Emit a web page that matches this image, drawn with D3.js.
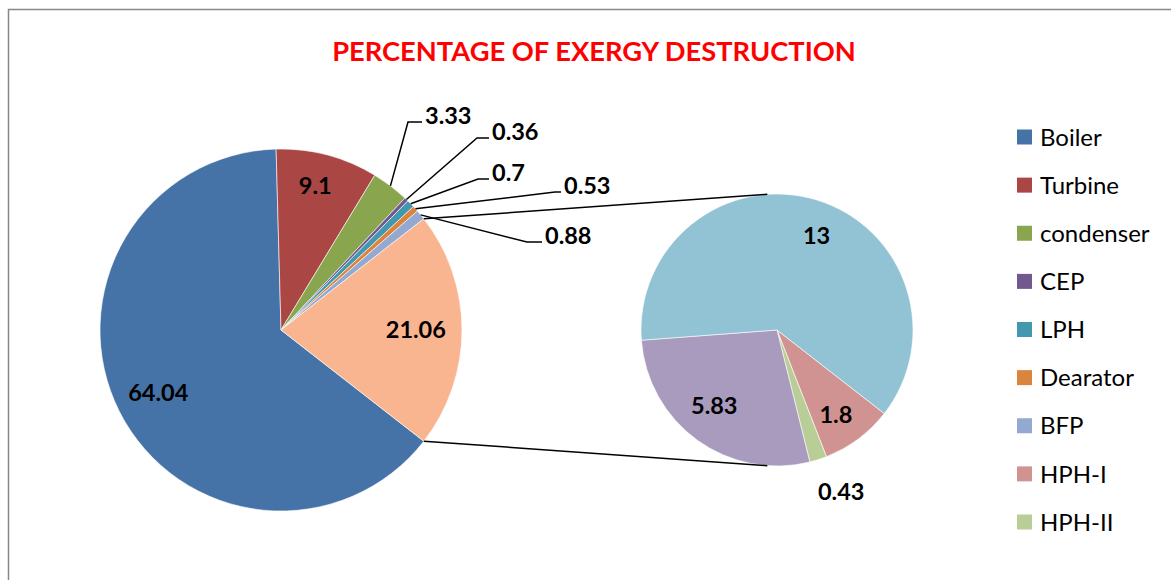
<!DOCTYPE html>
<html>
<head>
<meta charset="utf-8">
<script src="https://cdn.jsdelivr.net/npm/d3@7"></script>
<style>
  html, body { margin: 0; padding: 0; background: #fff; }
  svg { display: block; font-family: Lato, "Open Sans", "Liberation Sans", sans-serif; }
</style>
</head>
<body>
<svg id="chart" width="1171" height="580"></svg>
<script>
// ---- data -------------------------------------------------------------
const chartTitle = "PERCENTAGE OF EXERGY DESTRUCTION";

// components shown in the main pie
const mainNames  = ["Boiler", "Turbine", "condenser", "CEP", "LPH", "Dearator", "BFP"];
const mainValues = [64.04, 9.1, 3.33, 0.36, 0.7, 0.53, 0.88];
const mainColors = ["#4572A7", "#AA4643", "#89A54E", "#71588F", "#4198AF", "#DB843D", "#93A9CF"];

// components split out into the secondary pie
const splitKeys   = ["HPH-I", "HPH-II", "split-3", "split-4"];
const splitValues = [1.8, 0.43, 5.83, 13];
const splitColors = ["#D19392", "#B9CD96", "#A99BBD", "#92C3D4"];

const otherColor = "#F9B590";

// legend entries
const legendNames  = ["Boiler", "Turbine", "condenser", "CEP", "LPH", "Dearator", "BFP", "HPH-I", "HPH-II"];
const legendColors = ["#4572A7", "#AA4643", "#89A54E", "#71588F", "#4198AF", "#DB843D", "#93A9CF", "#D19392", "#B9CD96"];

// ---- layout -----------------------------------------------------------
const W = 1171, H = 580;
const mainC = { x: 281, y: 330, r: 181 };
const splitC = { x: 777, y: 330, r: 136 };

// callouts for the thin main-pie slices: elbow point and end of the shelf
const callouts = {
  condenser: { ex: 408, ey: 122, hx: 422 },
  CEP:       { ex: 477, ey: 138, hx: 489 },
  LPH:       { ex: 478, ey: 179, hx: 489 },
  Dearator:  { ex: 555, ey: 192, hx: 561 },
  BFP:       { ex: 527, ey: 242, hx: 542 }
};
// in-slice label placement: radius fraction and angular nudge (degrees)
const insideMain  = { Boiler: { f: 0.76, da: 0 }, Turbine: { f: 0.82, da: -1.5 }, Other: { f: 0.745, da: 0 } };
const insideSplit = { "HPH-I": { f: 0.76, da: 2 }, "HPH-II": { f: 1.28, da: -4 }, "split-3": { f: 0.72, da: 4 }, "split-4": { f: 0.75, da: 6 } };

const fmt = v => String(+v.toFixed(2));

const svg = d3.select("#chart");

// chart frame
svg.append("rect")
  .attr("x", 8.5).attr("y", 9.5)
  .attr("width", W + 20).attr("height", H + 20)
  .attr("fill", "#fff").attr("stroke", "#878787").attr("stroke-width", 1.5);

// title
svg.append("text")
  .attr("x", 594).attr("y", 61)
  .attr("text-anchor", "middle")
  .attr("fill", "#FF0000")
  .attr("font-weight", 700)
  .attr("font-size", 27.3)
  .text(chartTitle);

// ---- main pie ---------------------------------------------------------
const otherValue = d3.sum(splitValues);
const mainData = mainNames.map((n, i) => ({ name: n, value: mainValues[i], color: mainColors[i] }))
  .concat([{ name: "Other", value: otherValue, color: otherColor }]);
const total = d3.sum(mainData, d => d.value);
const otherFrac = otherValue / total;
// the split-out slice is centred on the 3 o'clock direction
const start = Math.PI / 2 + Math.PI * otherFrac;

const pieMain = d3.pie().sort(null).value(d => d.value)
  .startAngle(start).endAngle(start + 2 * Math.PI);
const arcsMain = pieMain(mainData);
const arcMain = d3.arc().innerRadius(0).outerRadius(mainC.r);

const gMain = svg.append("g").attr("transform", `translate(${mainC.x},${mainC.y})`);
gMain.selectAll("path").data(arcsMain).join("path")
  .attr("d", arcMain)
  .attr("fill", d => d.data.color)
  .attr("stroke", "#fff").attr("stroke-width", 0.6);

const polar = (r, a) => [r * Math.sin(a), -r * Math.cos(a)];

// ---- secondary pie ----------------------------------------------------
const splitData = splitKeys.map((k, i) => ({ name: k, value: splitValues[i], color: splitColors[i] }));
const pieSplit = d3.pie().sort(null).value(d => d.value)
  .startAngle(start).endAngle(start + 2 * Math.PI);
const arcsSplit = pieSplit(splitData);
const arcSplit = d3.arc().innerRadius(0).outerRadius(splitC.r);

const gSplit = svg.append("g").attr("transform", `translate(${splitC.x},${splitC.y})`);
gSplit.selectAll("path").data(arcsSplit).join("path")
  .attr("d", arcSplit)
  .attr("fill", d => d.data.color)
  .attr("stroke", "#fff").attr("stroke-width", 0.6);

// ---- connector lines (tangent to the secondary pie) -------------------
const otherArc = arcsMain[arcsMain.length - 1];
function tangentPoint(px, py, upper) {
  const dx = px - splitC.x, dy = py - splitC.y;
  const d = Math.hypot(dx, dy);
  const th = Math.atan2(dy, dx);
  const al = Math.acos(splitC.r / d);
  const t = upper ? th + al : th - al;
  return [splitC.x + splitC.r * Math.cos(t), splitC.y + splitC.r * Math.sin(t)];
}
[[otherArc.startAngle, true], [otherArc.endAngle, false]].forEach(([a, up]) => {
  const p = polar(mainC.r, a);
  const px = mainC.x + p[0], py = mainC.y + p[1];
  const t = tangentPoint(px, py, up);
  svg.append("line")
    .attr("x1", px).attr("y1", py).attr("x2", t[0]).attr("y2", t[1])
    .attr("stroke", "#000").attr("stroke-width", 1.5);
});

// ---- labels -----------------------------------------------------------
const labelSize = 23.5;
const labelStyle = sel => sel.attr("font-size", labelSize).attr("font-weight", 700).attr("fill", "#000");

arcsMain.forEach(d => {
  const mid = (d.startAngle + d.endAngle) / 2;
  const name = d.data.name;
  if (insideMain[name]) {
    const pl = insideMain[name];
    const p = polar(mainC.r * pl.f, mid + pl.da * Math.PI / 180);
    gMain.append("text").call(labelStyle)
      .attr("x", p[0]).attr("y", p[1]).attr("dy", "0.36em")
      .attr("text-anchor", "middle")
      .text(fmt(d.data.value));
  } else if (callouts[name]) {
    const c = callouts[name];
    const p = polar(mainC.r, mid);
    const sx = mainC.x + p[0], sy = mainC.y + p[1];
    svg.append("polyline")
      .attr("points", `${sx},${sy} ${c.ex},${c.ey} ${c.hx},${c.ey}`)
      .attr("fill", "none").attr("stroke", "#000").attr("stroke-width", 1.5);
    svg.append("text").call(labelStyle)
      .attr("x", c.hx + 3).attr("y", c.ey + 1.5)
      .text(fmt(d.data.value));
  }
});

arcsSplit.forEach(d => {
  const mid = (d.startAngle + d.endAngle) / 2;
  const pl = insideSplit[d.data.name];
  const p = polar(splitC.r * pl.f, mid + pl.da * Math.PI / 180);
  gSplit.append("text").call(labelStyle)
    .attr("x", p[0]).attr("y", p[1]).attr("dy", "0.36em")
    .attr("text-anchor", "middle")
    .text(fmt(d.data.value));
});

// ---- legend -----------------------------------------------------------
const legendY = d3.scalePoint().domain(legendNames).range([137, 522]);
const gLeg = svg.append("g");
const rows = gLeg.selectAll("g").data(legendNames).join("g")
  .attr("transform", d => `translate(1017,${legendY(d)})`);
rows.append("rect")
  .attr("x", 0).attr("y", -7.5).attr("width", 15).attr("height", 15)
  .attr("fill", (d, i) => legendColors[i]);
rows.append("text")
  .attr("x", 23).attr("y", 0).attr("dy", "0.36em")
  .attr("font-size", 24).attr("fill", "#000")
  .text(d => d);
</script>
</body>
</html>
